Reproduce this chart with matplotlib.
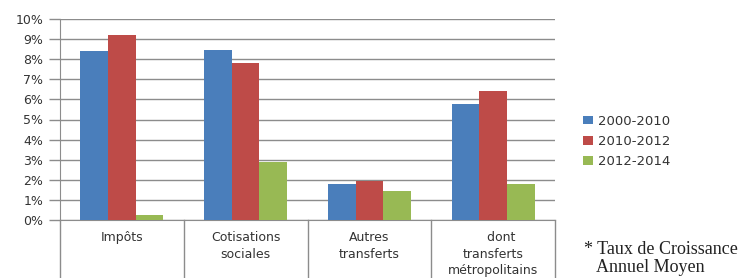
import matplotlib.pyplot as plt
import numpy as np

categories = ["Impôts", "Cotisations\nsociales", "Autres\ntransferts", "    dont\ntransferts\nmétropolitains"]
periods = ["2000-2010", "2010-2012", "2012-2014"]
v_2000_2010 = [8.4, 8.45, 1.8, 5.75]
v_2010_2012 = [9.2, 7.8, 1.95, 6.4]
v_2012_2014 = [0.25, 2.9, 1.42, 1.8]
colors = ["#4a7ebb", "#be4b48", "#98b954"]
yticks = list(range(0, 11))

fig = plt.figure(figsize=(7.47, 2.78), dpi=100)
ax = fig.add_axes([60 / 747, 1 - 220 / 278, 495 / 747, 201 / 278])

x = np.arange(len(categories))
w = 0.223
for i, (vals, lab) in enumerate(zip([v_2000_2010, v_2010_2012, v_2012_2014], periods)):
    ax.bar(x + (i - 1) * w, vals, w, color=colors[i], label=lab, zorder=3)

ax.set_xlim(-0.5, len(categories) - 0.5)
ax.set_ylim(0, 10)
ax.set_yticks(yticks)
ax.set_yticklabels([f"{t}%" for t in yticks], fontsize=9, color="#333333")
ax.yaxis.grid(True, color="#8c8c8c", linewidth=1, zorder=0)
ax.tick_params(axis="y", length=8, width=1, color="#8c8c8c", pad=4)
ax.tick_params(axis="x", length=0, pad=8)
ax.set_xticks(x)
ax.set_xticklabels(categories, fontsize=9, color="#333333", linespacing=1.35)

for s in ["top", "right"]:
    ax.spines[s].set_visible(False)
ax.spines["left"].set_color("#8c8c8c")
ax.spines["bottom"].set_color("#8c8c8c")

# category boxes under the axis
tr = ax.get_xaxis_transform()
for b in np.arange(-0.5, len(categories), 1.0):
    ax.plot([b, b], [0, -0.3], color="#8c8c8c", lw=1, transform=tr, clip_on=False)

leg = ax.legend(loc="upper left", bbox_to_anchor=(1.045, 0.55), frameon=False,
                fontsize=9.5, handlelength=0.8, handleheight=0.6, handletextpad=0.4,
                labelspacing=0.55, borderaxespad=0)
for t in leg.get_texts():
    t.set_color("#333333")

fig.text(584 / 747, 1 - 250 / 278, "* Taux de Croissance", fontsize=13,
         family="Liberation Serif", color="#222222", va="center")
fig.text(596 / 747, 1 - 268 / 278, "Annuel Moyen", fontsize=13,
         family="Liberation Serif", color="#222222", va="center")

fig.savefig("out.png", dpi=100)
